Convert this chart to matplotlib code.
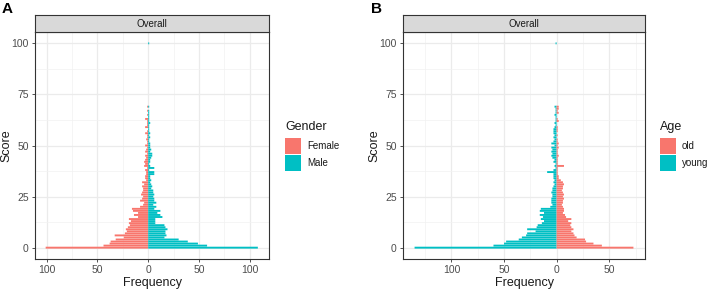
import numpy as np
import matplotlib
matplotlib.use('Agg')
from matplotlib import pyplot as plt
from matplotlib.ticker import MultipleLocator, FuncFormatter
from matplotlib.patches import Rectangle

plt.rcParams['font.family'] = ['Liberation Sans', 'DejaVu Sans']

# scores 0..69, then the lone bar at 100
scores = list(range(70)) + [100]

# panel A - gender
female = [101, 44, 38, 37, 32, 24, 33, 23, 21, 22, 20, 18, 19, 17, 19, 10, 14, 10, 15, 16,
          8, 5, 4, 8, 6, 5, 7, 6, 5, 5, 6, 4, 6, 2, 3, 3, 2, 2, 3, 1,
          4, 3, 4, 3, 2, 3, 1, 3, 2, 1, 3, 1, 1, 2, 1, 1, 3, 1, 0, 3,
          1, 1, 1, 3, 0, 1, 0, 1, 0, 1, 0]
male = [108, 58, 49, 39, 30, 16, 18, 17, 17, 19, 17, 16, 7, 7, 7, 14, 12, 9, 12, 6,
        8, 5, 8, 6, 6, 5, 6, 5, 5, 3, 4, 3, 2, 3, 2, 2, 6, 6, 1, 6,
        2, 1, 2, 2, 3, 4, 4, 2, 3, 2, 2, 2, 1, 1, 2, 1, 2, 1, 1, 1,
        1, 2, 1, 1, 1, 1, 1, 1, 0, 1, 1]

# panel B - age
old = [73, 43, 35, 28, 27, 19, 17, 16, 14, 16, 14, 13, 14, 11, 14, 9, 8, 6, 7, 7,
       6, 5, 6, 6, 7, 6, 7, 6, 5, 6, 6, 7, 6, 4, 2, 2, 1, 1, 1, 1,
       7, 1, 1, 1, 1, 2, 1, 1, 1, 2, 1, 2, 1, 1, 0, 1, 0, 1, 1, 1,
       0, 0, 2, 1, 0, 0, 2, 1, 2, 2, 0]
young = [135, 60, 50, 48, 36, 33, 29, 28, 20, 28, 19, 18, 14, 12, 15, 13, 16, 12, 16, 15,
         6, 4, 5, 5, 5, 4, 4, 5, 4, 4, 3, 2, 3, 2, 3, 3, 3, 9, 3, 1,
         2, 1, 3, 2, 4, 5, 4, 5, 4, 5, 2, 5, 3, 2, 3, 2, 3, 3, 3, 2,
         1, 2, 1, 1, 1, 2, 1, 1, 1, 2, 1]

RED = '#F8766D'
CYAN = '#00BFC4'
W, H = 708, 290


def px_axes(fig, x0, y0, x1, y1):
    # pixel box (top-left origin) -> figure axes
    return fig.add_axes([x0 / W, (H - y1) / H, (x1 - x0) / W, (y1 - y0) / H])


def legend(fig, x, title, labels, cols):
    fig.text(x / W, 1 - 127 / H, title, fontsize=9, color='#1A1A1A', va='center', ha='left')
    for i, (lab, c) in enumerate(zip(labels, cols)):
        top = 138 + i * 17
        fig.add_artist(Rectangle((x / W, 1 - (top + 16) / H), 16 / W, 16 / H,
                                 transform=fig.transFigure, facecolor=c, edgecolor='none'))
        fig.text((x + 22) / W, 1 - (top + 8) / H, lab, fontsize=7, color='#1A1A1A',
                 va='center', ha='left')


def panel(fig, x0, x1, left_vals, right_vals, left_col, right_col, xlim, xticks, minor,
          legend_title, labels, handles_cols, leg_x, letter, letter_x):
    ax = px_axes(fig, x0, 32, x1, 259)
    ax.barh(scores, -np.array(left_vals), height=0.93, color=left_col, linewidth=0,
            snap=False, zorder=3)
    ax.barh(scores, right_vals, height=0.93, color=right_col, linewidth=0,
            snap=False, zorder=3)
    ax.set_xlim(xlim)
    ax.set_ylim(-5.55, 105.55)
    ax.set_xticks(xticks)
    ax.xaxis.set_major_formatter(FuncFormatter(lambda v, p: '%d' % abs(v)))
    ax.set_xticks(minor, minor=True)
    ax.yaxis.set_major_locator(MultipleLocator(25))
    ax.yaxis.set_minor_locator(MultipleLocator(12.5))
    ax.grid(True, which='major', color='#EBEBEB', linewidth=0.9, zorder=0)
    ax.grid(True, which='minor', color='#F2F2F2', linewidth=0.5, zorder=0)
    ax.tick_params(which='major', length=2.5, width=0.6, color='#333333',
                   labelsize=7.5, labelcolor='#4D4D4D', pad=2)
    ax.tick_params(which='minor', length=0)
    for s in ax.spines.values():
        s.set_color('#333333')
        s.set_linewidth(0.8)
    ax.set_xlabel('Frequency', fontsize=9, color='#1A1A1A', labelpad=1)
    ax.set_ylabel('Score', fontsize=9, color='#1A1A1A')
    ax.yaxis.set_label_coords(-23.0 / (x1 - x0), 0.5)

    strip = px_axes(fig, x0, 15, x1, 32)
    strip.set_facecolor('#D9D9D9')
    strip.set_xticks([])
    strip.set_yticks([])
    for s in strip.spines.values():
        s.set_color('#333333')
        s.set_linewidth(0.8)
    strip.text(0.5, 0.45, 'Overall', ha='center', va='center', fontsize=7, color='#1A1A1A',
               transform=strip.transAxes)

    legend(fig, leg_x, legend_title, labels, handles_cols)
    fig.text(letter_x / W, 1 - 2 / H, letter, fontsize=11, fontweight='bold', va='top')
    return ax


fig = plt.figure(figsize=(W / 100, H / 100), dpi=100)

panel(fig, 35, 269, female, male, RED, CYAN, (-111.5, 119), [-100, -50, 0, 50, 100],
      [-75, -25, 25, 75], 'Gender', ['Female', 'Male'], [RED, CYAN], 285, 'A', 2)
panel(fig, 403, 645, young, old, CYAN, RED, (-146, 84), [-100, -50, 0, 50],
      [-125, -75, -25, 25, 75], 'Age', ['old', 'young'], [RED, CYAN], 660, 'B', 371)

plt.savefig('out.png', dpi=100)
